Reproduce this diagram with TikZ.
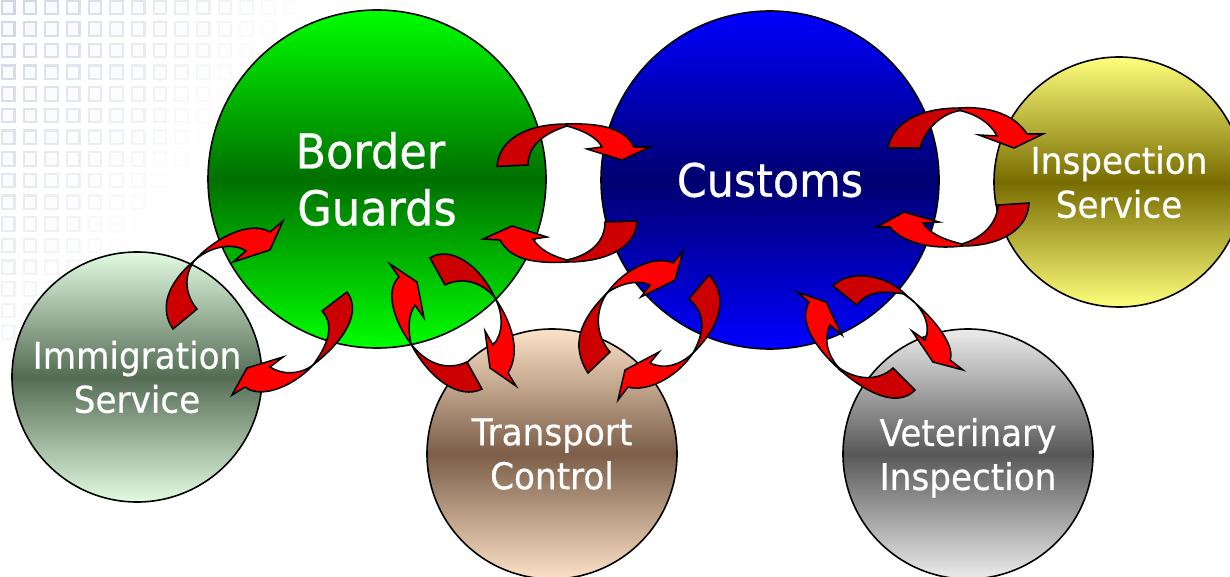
\documentclass[tikz,border=0pt]{standalone}
\usepackage{fontspec}
\setmainfont[FakeStretch=0.93,FakeBold=0.6]{DejaVu Sans}
\newcommand\nodepth[1]{\raisebox{0pt}[\height][0pt]{#1}}
\newcommand\lowered[1]{\raisebox{-1.5pt}{#1}}
\definecolor{gridc}{RGB}{208,212,226}
\definecolor{gridf}{RGB}{248,250,255}
\definecolor{darkred}{RGB}{204,0,0}
\definecolor{gA}{RGB}{0,255,0}\definecolor{gB}{RGB}{0,112,0}
\definecolor{bA}{RGB}{0,0,255}\definecolor{bB}{RGB}{0,0,112}
\definecolor{yA}{RGB}{255,255,125}\definecolor{yB}{RGB}{120,108,0}
\definecolor{iA}{RGB}{226,252,226}\definecolor{iB}{RGB}{84,108,84}
\definecolor{tA}{RGB}{252,226,200}\definecolor{tB}{RGB}{124,94,72}
\definecolor{vA}{RGB}{236,236,236}\definecolor{vB}{RGB}{88,88,88}
\tikzset{
  bubble/.style={circle,draw=black,line width=1.2pt,inner sep=0pt,text=white,align=center},
  big/.style={bubble,minimum size=253.5pt,font=\fontsize{36}{42.75}\selectfont},
  small/.style={bubble,minimum size=187.5pt,font=\fontsize{27.6}{33}\selectfont},
  tone/.style 2 args={top color=#1,bottom color=#1,middle color=#2},
  darkp/.style={fill=darkred,draw=black,line width=1.15pt,line join=miter},
  brightp/.style={fill=red,draw=black,line width=1.15pt,line join=miter},
  cell/.style={draw=gridc,fill=gridf,line width=1.6pt}
}
\begin{document}
\begin{tikzpicture}[x=0.75pt,y=-0.75pt]
\clip (0,0) rectangle (1230,577);
\fill[white] (0,0) rectangle (1230,577);
% background grid
\foreach \c in {0,...,14}{
  \foreach \r in {0,...,15}{
    \pgfmathsetmacro{\cx}{\c*21.67}
    \pgfmathsetmacro{\cy}{\r*21.67}
    \pgfmathsetmacro{\al}{max(0,0.95-\cx/310-\cy/420)}
    \ifdim\al pt>0.01pt
      \draw[cell,opacity=\al] ({\cx+2},{\cy+0.5}) rectangle ({\cx+14.5},{\cy+14});
    \fi
  }
}
% bubbles
\node[small,tone={yA}{yB}] (inspection) at (1119,182) {Inspection\\Service};
\node[small,tone={iA}{iB}] (immigration) at (137,377) {Immigration\\Service};
\node[small,tone={tA}{tB}] (transport) at (552,454) {Transport\\Control};
\node[small,tone={vA}{vB}] (veterinary) at (968,454) {Veterinary\\\nodepth{Inspection}};
\node[big,tone={gA}{gB}] (border) at (377,179) {Border\hspace*{10pt}\\Guards};
\node[big,tone={bA}{bB},font=\fontsize{34.5}{42}\selectfont] (customs) at (770,180) {\lowered{Customs}};
% Border <-> Customs, top
\path[darkp] (497,166.5) .. controls (499,140) and (525,124) .. (567,124) -- (567,126) .. controls (545,133) and (528,145) .. (528,165) -- cycle;
\path[brightp] (567,124) .. controls (600,123) and (625,128) .. (634,147) -- (650,147) -- (622,160) -- (587,149) -- (602,147) .. controls (597,137) and (582,130) .. (567,126) -- cycle;
% Border <-> Customs, bottom
\path[darkp] (637,221) .. controls (637,245) and (610,262) .. (567,262) -- (567,260) .. controls (590,255) and (605,242) .. (605,222) -- cycle;
\path[brightp] (567,262) .. controls (530,264) and (510,258) .. (500,240) -- (483,239) -- (512,226) -- (547,237) -- (533,239) .. controls (540,250) and (552,256) .. (567,260) -- cycle;
% Customs <-> Inspection, top
\path[darkp] (888,148) .. controls (893,122) and (920,108) .. (960,108) -- (960,110.5) .. controls (940,114) and (925,130) .. (920,148) -- cycle;
\path[brightp] (960,108) .. controls (990,106) and (1015,115) .. (1027,134) -- (1043,134) -- (1014,148) -- (979,135) -- (997,136) .. controls (990,122) and (975,114) .. (960,110.5) -- cycle;
% Customs <-> Inspection, bottom
\path[darkp] (1029,203) .. controls (1028,228) and (1003,246) .. (962,246) -- (962,244) .. controls (982,238) and (997,224) .. (998,205) -- cycle;
\path[brightp] (962,246) .. controls (930,250) and (902,242) .. (890,227) -- (877,227) -- (904,212) -- (939,222) -- (923,223) .. controls (930,234) and (945,240) .. (962,244) -- cycle;
% Customs <-> Veterinary
\path[darkp] (833,286) .. controls (848,270) and (885,272) .. (908,297) -- (904,294) .. controls (890,292) and (870,288) .. (857,305) -- cycle;
\path[brightp] (904,294) .. controls (932,315) and (956,345) .. (950,360) -- (963,370) -- (933,362) -- (912,331) -- (925,340) .. controls (932,325) and (922,305) .. (904,294) -- cycle;
\path[darkp] (915,390) .. controls (900,406) and (872,398) .. (839,369) -- (838,367) .. controls (855,380) and (878,382) .. (893,368) -- cycle;
\path[brightp] (839,369) .. controls (815,347) and (798,322) .. (809,302) -- (797,292) -- (826,302) -- (842,335) -- (830,325) .. controls (823,340) and (828,355) .. (838,367) -- cycle;
% Border <-> Immigration
\path[darkp] (173,329) .. controls (160,310) and (165,285) .. (195,260) -- (195,260) .. controls (183,275) and (185,295) .. (197,309) -- cycle;
\path[brightp] (195,260) .. controls (215,238) and (250,220) .. (270,232) -- (283,221) -- (270,250) -- (233,262) -- (246,251) .. controls (235,243) and (212,245) .. (195,260) -- cycle;
\path[darkp] (347,292) .. controls (362,312) and (345,340) .. (313,365) -- (313,365) .. controls (328,345) and (335,325) .. (322,311) -- cycle;
\path[brightp] (313,365) .. controls (295,385) and (262,400) .. (245,387) -- (232,395) -- (247,368) -- (283,357) -- (270,367) .. controls (282,375) and (300,375) .. (313,365) -- cycle;
% Border <-> Transport
\path[darkp] (430,258) .. controls (450,245) and (480,265) .. (495,298) -- (495,298) .. controls (485,285) and (465,275) .. (445,285) -- cycle;
\path[brightp] (495,298) .. controls (510,320) and (522,350) .. (508,373) -- (516,386) -- (490,368) -- (485,331) -- (493,345) .. controls (503,335) and (504,315) .. (495,298) -- cycle;
\path[darkp] (482,389) .. controls (460,400) and (430,380) .. (411,344) -- (411,344) .. controls (425,362) and (445,372) .. (467,362) -- cycle;
\path[brightp] (411,344) .. controls (393,320) and (385,290) .. (399,277) -- (390,264) -- (417,282) -- (424,318) -- (415,305) .. controls (408,315) and (408,330) .. (411,344) -- cycle;
% Customs <-> Transport
\path[darkp] (588,373) .. controls (570,345) and (580,320) .. (607,293) -- (607,293) .. controls (595,310) and (595,335) .. (610,352) -- cycle;
\path[brightp] (607,293) .. controls (625,268) and (655,255) .. (673,263) -- (683,251) -- (675,280) -- (641,297) -- (650,285) .. controls (640,280) and (622,282) .. (607,293) -- cycle;
\path[darkp] (709,275) .. controls (728,295) and (722,325) .. (693,353) -- (693,353) .. controls (703,335) and (708,315) .. (689,299) -- cycle;
\path[brightp] (693,353) .. controls (675,380) and (645,392) .. (628,387) -- (618,400) -- (625,370) -- (659,352) -- (650,363) .. controls (665,370) and (680,365) .. (693,353) -- cycle;
\end{tikzpicture}
\end{document}
